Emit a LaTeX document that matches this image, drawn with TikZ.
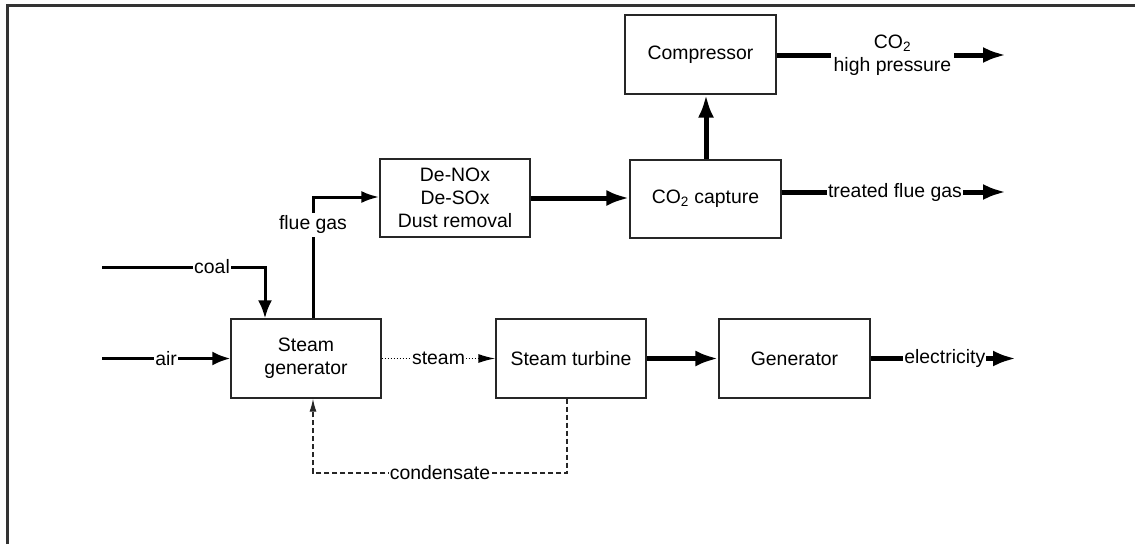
\documentclass[tikz,border=0pt]{standalone}
\usepackage{fontspec}
\setmainfont{Liberation Sans}
\usetikzlibrary{arrows.meta}
\begin{document}
\begin{tikzpicture}[x=1pt,y=-1pt,
  font=\fontsize{19.4}{23}\selectfont,
  box/.style={draw=black!85, line width=1.3pt, minimum width=150pt, minimum height=79pt, align=center, inner sep=0pt},
  lab/.style={fill=white, inner sep=1.5pt, align=center},
  mid/.style={line width=3pt},
  thick5/.style={line width=5pt},
  headM/.style={-{Latex[length=18pt,width=14pt]}},
  headL/.style={-{Latex[length=23pt,width=16pt]}},
  dotline/.style={dash pattern=on 1.5pt off 1.5pt, line width=1.4pt},
  dashline/.style={dash pattern=on 5pt off 3pt, line width=1.3pt, black!85}]
\useasboundingbox (0,0) rectangle (1135,544);
\draw[line width=3pt, black!80] (7,544) -- (7,5) -- (1135,5);

\node[box] (sg) at (306,358.5) {Steam\\generator};
\node[box] (st) at (571,358.5) {Steam turbine};
\node[box, minimum width=151pt] (gen) at (794.5,358.5) {Generator};
\node[box, minimum height=78pt] (dn) at (455,198) {De-NOx\\De-SOx\\Dust removal};
\node[box, minimum width=151pt, minimum height=78pt] (cc) at (705.5,199) {CO\textsubscript{2} capture};
\node[box, minimum width=151pt] (cp) at (700.5,54.5) {Compressor};

\coordinate (coalS) at (102,267);
\coordinate (coalK) at (265,267);
\coordinate (airS) at (102,358.5);
\coordinate (flueK) at (313,197);
\coordinate (hpE) at (1006,55);
\coordinate (tfE) at (1006,192);
\coordinate (elE) at (1016,358.5);
\coordinate (condA) at (567,473);
\coordinate (condB) at (313,473);

% coal
\draw[mid, headM] (coalS) -- node[lab, pos=0.675] (coalL) {coal} (coalK) -- (coalK |- sg.north);
% air
\draw[mid, headM] (airS) -- node[lab, pos=0.5] (airL) {air} (sg.west);
% flue gas
\draw[mid, -{Latex[length=18pt,width=12pt]}] (sg.north -| flueK) -- node[lab, pos=0.77, inner sep=3pt] (flueL) {flue gas} (flueK) -- (flueK -| dn.west);
% De-NOx -> capture
\draw[thick5, headL] (dn.east) -- (dn.east -| cc.west);
% capture -> compressor
\draw[thick5, headL] (cc.north -| 706,0) -- (cp.south -| 706,0);
% compressor -> CO2 high pressure
\draw[thick5, headL] (cp.east |- hpE) -- node[lab, pos=0.505, inner sep=3pt] (hpL) {CO\textsubscript{2}\\high pressure} (hpE);
% capture -> treated flue gas
\draw[thick5, headL] (cc.east |- tfE) -- node[lab, pos=0.505, inner sep=1pt] (tfL) {treated flue gas} (tfE);
% steam
\draw[dotline, -{Latex[length=17pt,width=9pt]}] (sg.east) -- node[lab, pos=0.5, inner sep=1pt] (stmL) {steam} (st.west);
% turbine -> generator
\draw[thick5, headL] (st.east) -- (gen.west);
% generator -> electricity
\draw[thick5, headL] (gen.east) -- node[lab, pos=0.51, inner sep=1pt] (elL) {electricity} (elE);
% condensate
\draw[dashline, -{Latex[length=13pt,width=7pt]}] (st.south -| condA) -- (condA) -- node[lab, pos=0.5, inner sep=1pt, text=black] (condL) {condensate} (condB) -- (sg.south -| condB);
\end{tikzpicture}
\end{document}
